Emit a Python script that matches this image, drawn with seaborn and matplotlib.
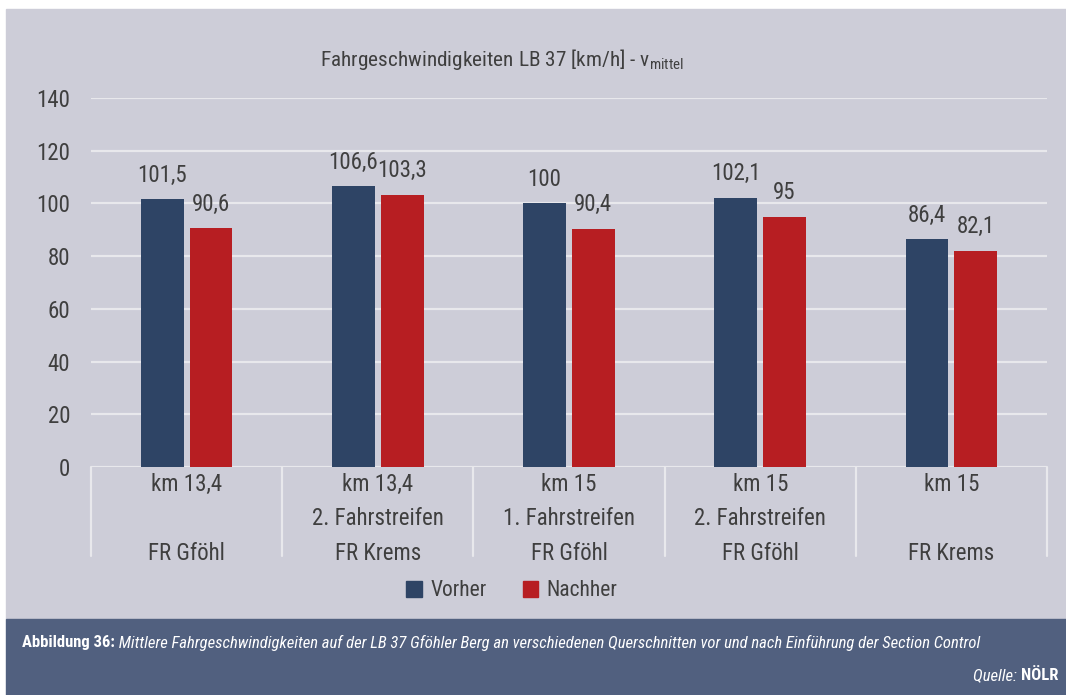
import matplotlib
matplotlib.use("Agg")
import matplotlib.pyplot as plt
import seaborn as sns
import pandas as pd
from matplotlib.patches import Rectangle
from matplotlib.lines import Line2D

categories = ["km 13,4\n\nFR Gföhl",
              "km 13,4\n2. Fahrstreifen\nFR Krems",
              "km 15\n1. Fahrstreifen\nFR Gföhl",
              "km 15\n2. Fahrstreifen\nFR Gföhl",
              "km 15\n\nFR Krems"]
vorher = [101.5, 106.6, 100, 102.1, 86.4]
nachher = [90.6, 103.3, 90.4, 95, 82.1]
series_names = ["Vorher", "Nachher"]
y_ticks = [0, 20, 40, 60, 80, 100, 120, 140]

BG = "#CDCDD8"
BAND = "#51607F"
C_V = "#2E4465"
C_N = "#B71E22"
TXT = "#3F3F3F"
GRID = "#E8E8EC"

sns.set_theme(style="white")
plt.rcParams["font.family"] = ["Roboto Condensed", "DejaVu Sans"]
plt.rcParams["font.stretch"] = "condensed"

df = pd.DataFrame({
    "cat": categories * 2,
    "value": vorher + nachher,
    "series": [series_names[0]] * len(categories) + [series_names[1]] * len(categories),
})

fig = plt.figure(figsize=(10.66, 6.95), dpi=100)
fig.patch.set_facecolor("white")
W, H = 1066, 695
fig.patches.append(Rectangle((6 / W, 1 - 619 / H), 1 - 6 / W, (619 - 9) / H,
                             transform=fig.transFigure, color=BG, zorder=-10))
fig.patches.append(Rectangle((6 / W, 0), 1 - 6 / W, 1 - 619 / H,
                             transform=fig.transFigure, color=BAND, zorder=-10))

ax = fig.add_axes([91 / W, 1 - 467 / H, (1047 - 91) / W, (467 - 98) / H])
ax.set_facecolor(BG)
sns.barplot(data=df, x="cat", y="value", hue="series", order=categories,
            hue_order=series_names, palette=[C_V, C_N], width=0.51, gap=0.12,
            saturation=1, ax=ax, legend=False, zorder=3, linewidth=0)

ax.set_ylim(0, 140)
ax.set_xlim(-0.5, len(categories) - 0.5)
ax.set_yticks(y_ticks)
ax.set_yticklabels([str(t) for t in y_ticks], fontsize=16.5, color=TXT)
ax.tick_params(axis="y", length=0, pad=15)
ax.tick_params(axis="x", length=0, pad=4)
ax.set_xticks(range(len(categories)))
ax.set_xticklabels(categories, fontsize=16.5, color=TXT, linespacing=1.65, va="top")
ax.set_xlabel("")
ax.set_ylabel("")
for s in ax.spines.values():
    s.set_visible(False)
for t in y_ticks:
    ax.axhline(t, color=GRID, lw=1.6, zorder=1)

for i in range(len(categories) + 1):
    ax.add_line(Line2D([i - 0.5, i - 0.5], [0, -0.24], color=GRID, lw=1.6,
                       transform=ax.get_xaxis_transform(), clip_on=False))

def fmt(v):
    return ("%g" % v).replace(".", ",")

for cont, vals in zip(ax.containers, [vorher, nachher]):
    ax.bar_label(cont, labels=[fmt(v) for v in vals], padding=9,
                 fontsize=16.5, color=TXT)

fig.text(320 / W, 1 - 60 / H, "Fahrgeschwindigkeiten LB 37 [km/h] - v$_{\\mathregular{mittel}}$",
         fontsize=15.3, color=TXT, ha="left", va="center")

handles = [Rectangle((0, 0), 1, 1, color=C_V), Rectangle((0, 0), 1, 1, color=C_N)]
fig.legend(handles, series_names, loc="center", bbox_to_anchor=(512 / W, 1 - 591 / H),
           ncol=2, frameon=False, fontsize=15.5, handlelength=0.7, handleheight=0.7,
           handletextpad=0.4, columnspacing=1.7, labelcolor=TXT)

t1 = fig.text(22 / W, 1 - 643 / H, "Abbildung 36:", fontsize=12, color="white",
              fontweight="bold", ha="left", va="center")
ax.annotate(" Mittlere Fahrgeschwindigkeiten auf der LB 37 Gföhler Berg an verschiedenen Querschnitten vor und nach Einführung der Section Control",
            xy=(1, 0.5), xycoords=t1, ha="left", va="center",
            fontsize=12, color="white", style="italic", annotation_clip=False)
t2 = fig.text(1058 / W, 1 - 676 / H, "NÖLR", fontsize=12, color="white",
              fontweight="bold", ha="right", va="center")
ax.annotate("Quelle: ", xy=(0, 0.5), xycoords=t2, ha="right", va="center",
            fontsize=12, color="white", style="italic", annotation_clip=False)

fig.savefig("out.png", dpi=100, facecolor=fig.get_facecolor())
